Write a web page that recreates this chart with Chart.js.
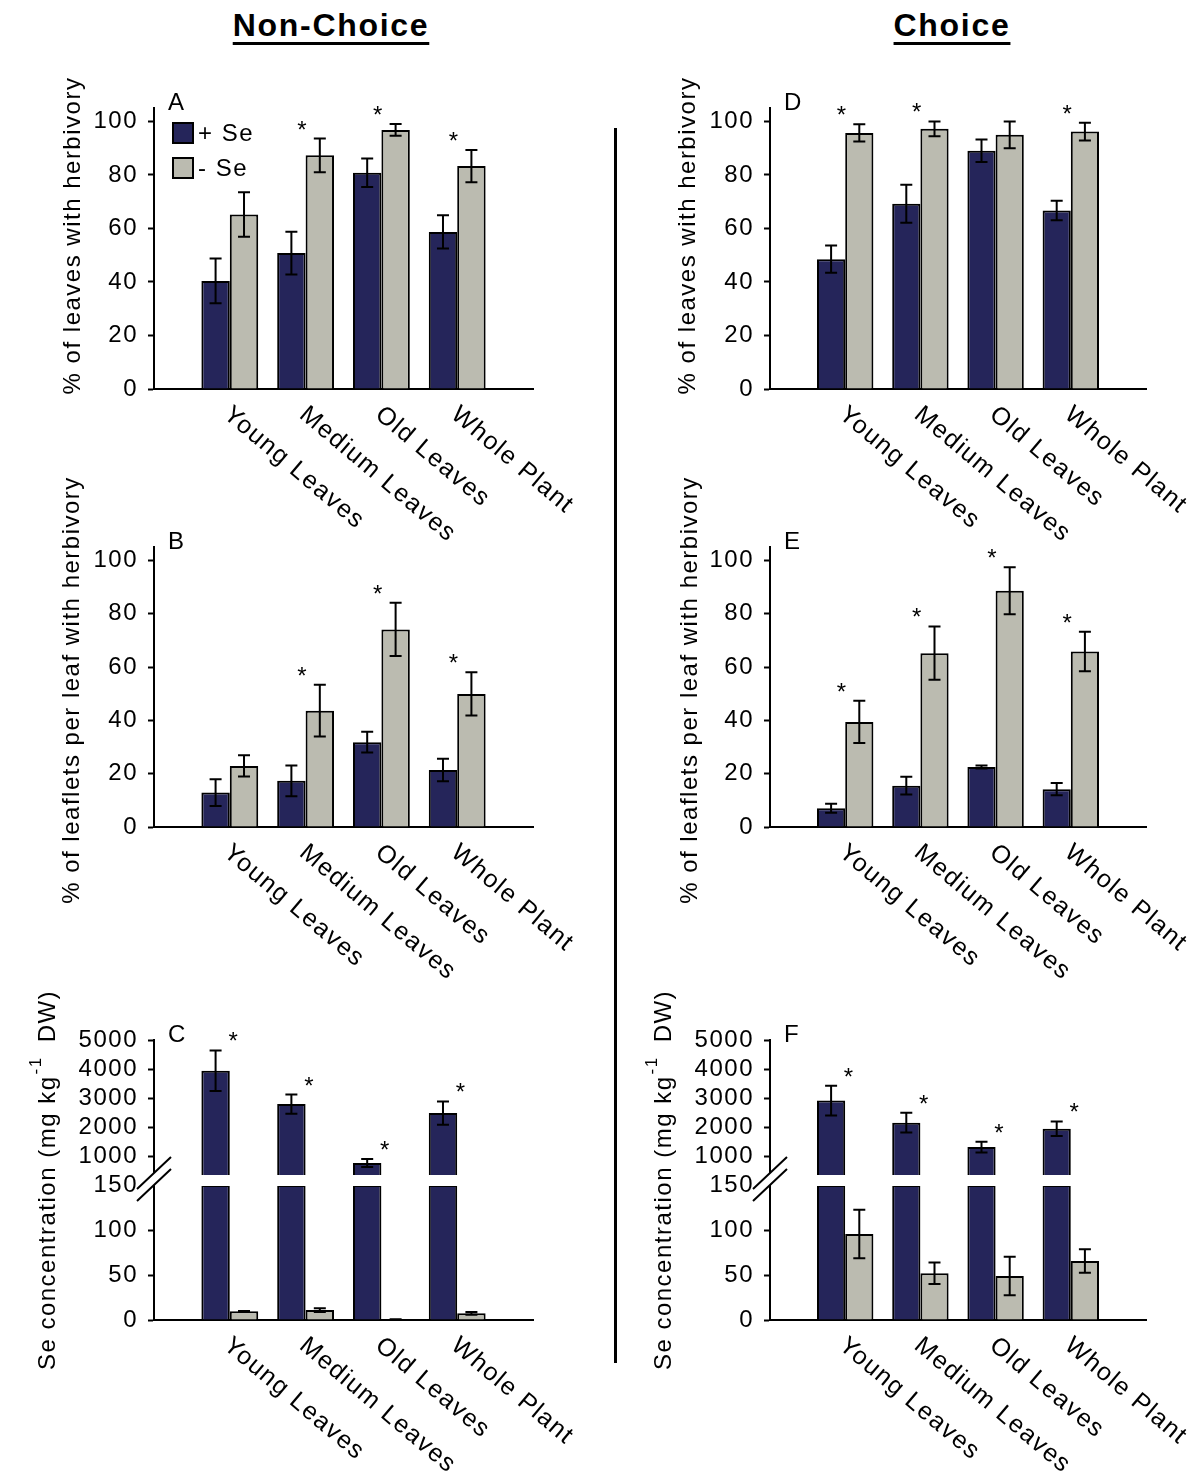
<!DOCTYPE html>
<html>
<head>
<meta charset="utf-8">
<script src="https://cdn.jsdelivr.net/npm/chart.js@4.4.1/dist/chart.umd.min.js"></script>
<style>
    body { margin: 0; background: #fff; width: 1200px; height: 1480px; position: relative; overflow: hidden; font-family: "Liberation Sans", Arial, sans-serif; }
    .head { position: absolute; top: 7px; line-height: 36px; font-size: 32px; font-weight: bold; letter-spacing: 1.7px;
            text-decoration: underline; text-decoration-thickness: 3px; text-underline-offset: 6px; transform: translateX(-50%); white-space: nowrap; }
    canvas { position: absolute; }
    #divider { position: absolute; left: 614px; top: 128px; width: 2.5px; height: 1235px; background: #000; }
</style>
</head>
<body>
<div class="head" style="left:331px">Non-Choice</div>
<div class="head" style="left:952px">Choice</div>
<div id="divider"></div>

<canvas id="chartA" width="600" height="505" style="left:0;top:55px"></canvas>
<canvas id="chartB" width="600" height="540" style="left:0;top:450px"></canvas>
<canvas id="chartC" width="600" height="520" style="left:0;top:960px"></canvas>
<canvas id="chartD" width="580" height="505" style="left:620px;top:55px"></canvas>
<canvas id="chartE" width="580" height="540" style="left:620px;top:450px"></canvas>
<canvas id="chartF" width="580" height="520" style="left:620px;top:960px"></canvas>

<script>
const categories = ['Young Leaves', 'Medium Leaves', 'Old Leaves', 'Whole Plant'];
const seriesNames = ['+ Se', '- Se'];
const percentTicks = [0, 20, 40, 60, 80, 100];
const seLowTicks = [0, 50, 100, 150];
const seHighTicks = [1000, 2000, 3000, 4000, 5000];

// A - non-choice, % of leaves with herbivory
const aPlus = [40.4, 50.8, 80.8, 58.7];
const aPlusErr = [8.4, 8.0, 5.3, 6.2];
const aMinus = [65.2, 87.3, 96.8, 83.3];
const aMinusErr = [8.3, 6.3, 2.2, 6.0];
const aStars = [false, true, true, true];

// B - non-choice, % of leaflets per leaf with herbivory
const bPlus = [12.9, 17.3, 31.8, 21.4];
const bPlusErr = [5.0, 5.8, 3.9, 4.2];
const bMinus = [22.9, 43.6, 74.1, 49.9];
const bMinusErr = [4.0, 9.7, 10.0, 8.1];
const bStars = [false, true, true, true];

// C - non-choice, Se concentration
const cPlus = [3940, 2790, 760, 2480];
const cPlusErr = [700, 330, 140, 400];
const cMinus = [9.6, 11.0, 0.8, 7.4];
const cMinusErr = [0.5, 2.0, 0, 1.5];
const cStars = [true, true, true, true];

// D - choice, % of leaves with herbivory
const dPlus = [48.5, 69.2, 89.0, 66.7];
const dPlusErr = [5.1, 7.1, 4.2, 3.6];
const dMinus = [95.7, 97.2, 95.0, 96.2];
const dMinusErr = [3.2, 2.8, 5.0, 3.3];
const dStars = [true, true, false, true];

// E - choice, % of leaflets per leaf with herbivory
const ePlus = [7.0, 15.5, 22.5, 14.2];
const ePlusErr = [1.7, 3.3, 0.6, 2.3];
const eMinus = [39.4, 65.2, 88.6, 65.8];
const eMinusErr = [7.9, 10.0, 8.8, 7.4];
const eStars = [true, true, true, true];

// F - choice, Se concentration
const fPlus = [2910, 2150, 1310, 1940];
const fPlusErr = [510, 340, 185, 250];
const fMinus = [95.6, 51.9, 48.9, 65.6];
const fMinusErr = [27, 12, 21.5, 13];
const fStars = [true, true, true, true];

const FONT = '"Liberation Sans", Arial, sans-serif';
const SIZE = 24;
const ink = '#000';
const navy = '#25255a';
const grey = '#bbbbb0';
const seBreak = 150;

// empty slot at each end so the groups sit like the original axis
const xLabels = ['', ...categories, ''];
const pad = arr => [null, ...arr, null];

const leavesTitle = [{ text: '% of leaves with herbivory' }];
const leafletsTitle = [{ text: '% of leaflets per leaf with herbivory' }];
const seTitle = [
    { text: 'Se concentration (mg kg' },
    { text: '-1', size: 17, rise: 12, gap: 1 },
    { text: 'DW)', gap: 14 },
];

const decor = {
    id: 'decor',
    beforeDraw(chart) {
        if ('letterSpacing' in chart.ctx) chart.ctx.letterSpacing = '1.5px';
    },
    afterDatasetsDraw(chart, args, o) {
        const ctx = chart.ctx;
        const area = chart.chartArea;

        if (o.broken) {
            const p0 = chart.scales.yHigh.getPixelForValue(0);
            const ax = area.left;
            ctx.save();
            ctx.fillStyle = '#fff';
            ctx.fillRect(ax + 2, p0 - 10, area.right - ax, 11);
            ctx.beginPath();
            ctx.moveTo(ax - 17, p0 + 4);
            ctx.lineTo(ax + 17, p0 - 28);
            ctx.lineTo(ax + 17, p0 - 16);
            ctx.lineTo(ax - 17, p0 + 16);
            ctx.closePath();
            ctx.fill();
            ctx.strokeStyle = ink;
            ctx.lineWidth = 2;
            ctx.beginPath();
            ctx.moveTo(ax - 17, p0 + 4);
            ctx.lineTo(ax + 17, p0 - 28);
            ctx.moveTo(ax - 17, p0 + 16);
            ctx.lineTo(ax + 17, p0 - 16);
            ctx.stroke();
            ctx.restore();
        }

        ctx.save();
        ctx.strokeStyle = ink;
        ctx.lineWidth = 2;
        chart.data.datasets.forEach((ds, di) => {
            if (!ds.errors) return;
            const meta = chart.getDatasetMeta(di);
            const y = chart.scales[meta.yAxisID];
            meta.data.forEach((bar, i) => {
                const v = ds.data[i];
                const e = ds.errors[i];
                if (v == null || e == null) return;
                const top = y.getPixelForValue(v + e);
                const bot = y.getPixelForValue(Math.max(v - e, 0));
                ctx.beginPath();
                ctx.moveTo(bar.x, top);
                ctx.lineTo(bar.x, bot);
                ctx.moveTo(bar.x - 6, top);
                ctx.lineTo(bar.x + 6, top);
                ctx.moveTo(bar.x - 6, bot);
                ctx.lineTo(bar.x + 6, bot);
                ctx.stroke();
            });
        });
        ctx.restore();
    },
    afterDraw(chart, args, o) {
        const ctx = chart.ctx;
        const area = chart.chartArea;
        const x = chart.scales.x;

        ctx.save();
        ctx.fillStyle = ink;

        // significance stars above the highest error bar of each group
        ctx.font = `24px ${FONT}`;
        ctx.textAlign = 'center';
        ctx.textBaseline = 'alphabetic';
        o.stars.forEach((star, i) => {
            if (!star) return;
            let top = Infinity;
            chart.data.datasets.forEach((ds, di) => {
                if (!ds.errors) return;
                const v = ds.data[i + 1];
                if (v == null) return;
                const y = chart.scales[chart.getDatasetMeta(di).yAxisID];
                top = Math.min(top, y.getPixelForValue(v + (ds.errors[i + 1] || 0)));
            });
            ctx.fillText('*', x.getPixelForValue(i + 1) + o.starDx, top - 1);
        });

        // panel letter
        ctx.font = `${SIZE}px ${FONT}`;
        ctx.textAlign = 'left';
        ctx.fillText(o.letter, area.left + 14, area.top + 2);

        // legend (panel A only)
        if (o.legend) {
            const keys = [chart.data.datasets[0], chart.data.datasets[1]];
            keys.forEach((ds, k) => {
                const bx = area.left + 19;
                const by = area.top + 15 + k * 35;
                ctx.fillStyle = ds.backgroundColor;
                ctx.fillRect(bx, by, 20, 20);
                ctx.strokeStyle = ink;
                ctx.lineWidth = 2;
                ctx.strokeRect(bx, by, 20, 20);
                ctx.fillStyle = ink;
                ctx.textBaseline = 'middle';
                ctx.fillText(ds.label, bx + 25, by + 11);
            });
        }

        // slanted category labels
        ctx.font = `25px ${FONT}`;
        ctx.textBaseline = 'top';
        categories.forEach((label, i) => {
            ctx.save();
            ctx.translate(x.getPixelForValue(i + 1) + 5, area.bottom + 13);
            ctx.rotate(40 * Math.PI / 180);
            ctx.fillText(label, 0, 0);
            ctx.restore();
        });

        // y title (drawn by hand for the superscript)
        ctx.translate(o.titleX, (area.top + area.bottom) / 2 + o.titleDy);
        ctx.rotate(-Math.PI / 2);
        ctx.textBaseline = 'middle';
        let total = 0;
        const widths = o.title.map(p => {
            ctx.font = `${p.size || SIZE}px ${FONT}`;
            const w = ctx.measureText(p.text).width + (p.gap || 0);
            total += w;
            return w;
        });
        let cx = -total / 2;
        o.title.forEach((p, k) => {
            ctx.font = `${p.size || SIZE}px ${FONT}`;
            ctx.fillText(p.text, cx + (p.gap || 0), -(p.rise || 0));
            cx += widths[k];
        });
        ctx.restore();
    },
};

function barSet(label, values, errors, color, extra) {
    return Object.assign({
        label: label,
        data: pad(values),
        errors: errors ? pad(errors) : null,
        backgroundColor: color,
        borderColor: ink,
        borderWidth: 2,
        categoryPercentage: 0.75,
        barPercentage: 1.0,
    }, extra || {});
}

function yAxis(width, ticks, extra) {
    return Object.assign({
        position: 'left',
        border: { color: ink, width: 2 },
        grid: { drawOnChartArea: false, tickLength: 6, tickWidth: 2, tickColor: ink },
        ticks: {
            color: ink, padding: 10, autoSkip: false,
            font: { family: FONT, size: SIZE },
            callback: v => String(v),
        },
        afterBuildTicks: s => { s.ticks = ticks.map(v => ({ value: v })); },
        afterFit: s => { s.width = width; },
    }, extra);
}

function makePanel(id, p) {
    const scales = {
        x: {
            type: 'category',
            offset: false,
            grid: { display: false, drawTicks: false },
            border: { color: ink, width: 2 },
            ticks: { display: false },
            afterFit: s => { s.height = p.xHeight; },
        },
    };
    let datasets;

    if (p.broken) {
        scales.yLow = yAxis(p.axisWidth, seLowTicks, {
            min: 0, max: seBreak, stack: 'se', stackWeight: 135,
        });
        scales.yLow.grid.tickColor = c => (c.tick && c.tick.value === seBreak ? 'rgba(0,0,0,0)' : ink);
        scales.yHigh = yAxis(p.axisWidth, seHighTicks, {
            min: 0, max: 5000, stack: 'se', stackWeight: 145,
        });
        datasets = [
            barSet(seriesNames[0], p.plus, p.plusErr, navy, { yAxisID: 'yHigh', stack: 'plus' }),
            barSet(seriesNames[0], p.plus.map(v => Math.min(v, seBreak)), null, navy, { yAxisID: 'yLow', stack: 'plus' }),
            barSet(seriesNames[1], p.minus, p.minusErr, grey, { yAxisID: 'yLow', stack: 'minus' }),
        ];
    } else {
        scales.y = yAxis(p.axisWidth, percentTicks, { min: 0, max: 105 });
        datasets = [
            barSet(seriesNames[0], p.plus, p.plusErr, navy),
            barSet(seriesNames[1], p.minus, p.minusErr, grey),
        ];
    }

    return new Chart(document.getElementById(id), {
        type: 'bar',
        data: { labels: xLabels, datasets: datasets },
        options: {
            responsive: false,
            animation: false,
            events: [],
            layout: { padding: { top: p.padTop, right: p.padRight, left: 0, bottom: 0 } },
            scales: scales,
            plugins: {
                tooltip: { enabled: false },
                legend: { display: false },
                decor: {
                    letter: p.letter,
                    legend: !!p.legend,
                    title: p.title,
                    titleX: p.titleX,
                    titleDy: p.titleDy,
                    stars: p.stars,
                    starDx: p.broken ? 4 : -3,
                    broken: !!p.broken,
                },
            },
        },
        plugins: [decor],
    });
}

const leftCol = { axisWidth: 154, padRight: 67 };
const rightCol = { axisWidth: 150, padRight: 54 };
const row1 = { padTop: 53, xHeight: 171, titleDy: -13 };
const row2 = { padTop: 97, xHeight: 163, titleDy: 3 };
const row3 = { padTop: 80, xHeight: 160, titleDy: 0 };

makePanel('chartA', Object.assign({}, leftCol, row1, {
    letter: 'A', title: leavesTitle, titleX: 73, legend: true,
    plus: aPlus, plusErr: aPlusErr, minus: aMinus, minusErr: aMinusErr, stars: aStars,
}));
makePanel('chartB', Object.assign({}, leftCol, row2, {
    letter: 'B', title: leafletsTitle, titleX: 72,
    plus: bPlus, plusErr: bPlusErr, minus: bMinus, minusErr: bMinusErr, stars: bStars,
}));
makePanel('chartC', Object.assign({}, leftCol, row3, {
    letter: 'C', title: seTitle, titleX: 48, broken: true,
    plus: cPlus, plusErr: cPlusErr, minus: cMinus, minusErr: cMinusErr, stars: cStars,
}));
makePanel('chartD', Object.assign({}, rightCol, row1, {
    letter: 'D', title: leavesTitle, titleX: 68,
    plus: dPlus, plusErr: dPlusErr, minus: dMinus, minusErr: dMinusErr, stars: dStars,
}));
makePanel('chartE', Object.assign({}, rightCol, row2, {
    letter: 'E', title: leafletsTitle, titleX: 70,
    plus: ePlus, plusErr: ePlusErr, minus: eMinus, minusErr: eMinusErr, stars: eStars,
}));
makePanel('chartF', Object.assign({}, rightCol, row3, {
    letter: 'F', title: seTitle, titleX: 44, broken: true,
    plus: fPlus, plusErr: fPlusErr, minus: fMinus, minusErr: fMinusErr, stars: fStars,
}));
</script>
</body>
</html>
